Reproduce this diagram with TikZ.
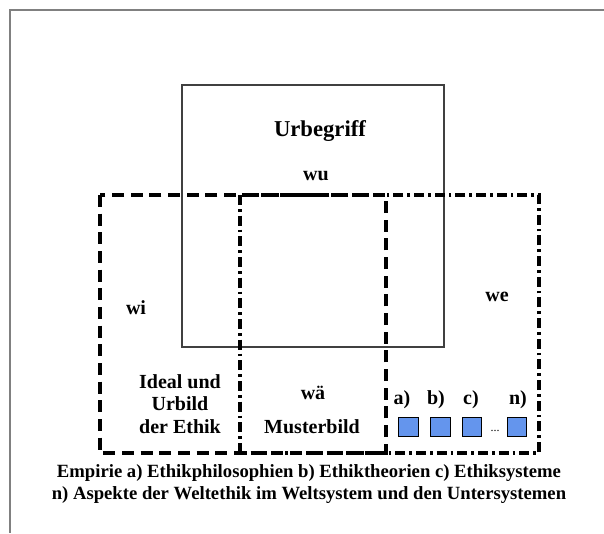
\documentclass[tikz,border=0pt]{standalone}
\usepackage{fontspec}
\setmainfont{Liberation Serif}
\usetikzlibrary{positioning}
\definecolor{boxblue}{RGB}{100,149,237}

\begin{document}
\begin{tikzpicture}[x=0.75pt,y=-0.75pt,
        lbl/.style={font=\bfseries\fontsize{15}{17}\selectfont},
        sq/.style={draw=black,fill=boxblue,line width=0.6pt,minimum size=14.5pt,inner sep=0pt}]
        \useasboundingbox (0,0) rectangle (604,533);

        % frame
        \draw[gray,line width=1pt] (604,10) -- (10,10) -- (10,533);

        % Urbegriff
        \draw[black!75,line width=1.2pt] (182,85) rectangle (444,347);
        \node[font=\bfseries\fontsize{17}{20}\selectfont] (urb) at (320,131) {Urbegriff};
        \node[lbl] (wu) at (316,176) {wu};

        % wi and we
        \draw[line width=2.3pt,dash pattern=on 9pt off 5pt] (100,195) rectangle (386,453);
        \draw[line width=2.3pt,dash pattern=on 7.5pt off 3pt on 2pt off 3pt] (240,195) rectangle (539,453);
        \node[lbl] (wi) at (136,308) {wi};
        \node[lbl] (we) at (497,297) {we};

        \node[lbl,align=center] (ideal) at (180,404) {Ideal und\\Urbild\\der Ethik};
        \node[lbl] (wae) at (313,393) {wä};
        \node[lbl] (muster) at (312,427) {Musterbild};

        % Empirie
        \node[sq] (sa) at (408.5,427) {};
        \node[sq] (sb) at (440.5,427) {};
        \node[sq] (sc) at (472,427) {};
        \node[sq] (sn) at (517,427) {};
        \node[font=\fontsize{9}{10}\selectfont] (dots) at (495,431) {...};
        \node[lbl] (la) at (402,400) {a)};
        \node[lbl] (lb) at (436,400) {b)};
        \node[lbl] (lc) at (471,400) {c)};
        \node[lbl] (ln) at (518,400) {n)};

        \node[font=\bfseries\fontsize{14}{16}\selectfont,align=center] (cap) at (309,484)
            {Empirie a) Ethikphilosophien b) Ethiktheorien c) Ethiksysteme\\n) Aspekte der Weltethik im Weltsystem und den Untersystemen};
\end{tikzpicture}
\end{document}
